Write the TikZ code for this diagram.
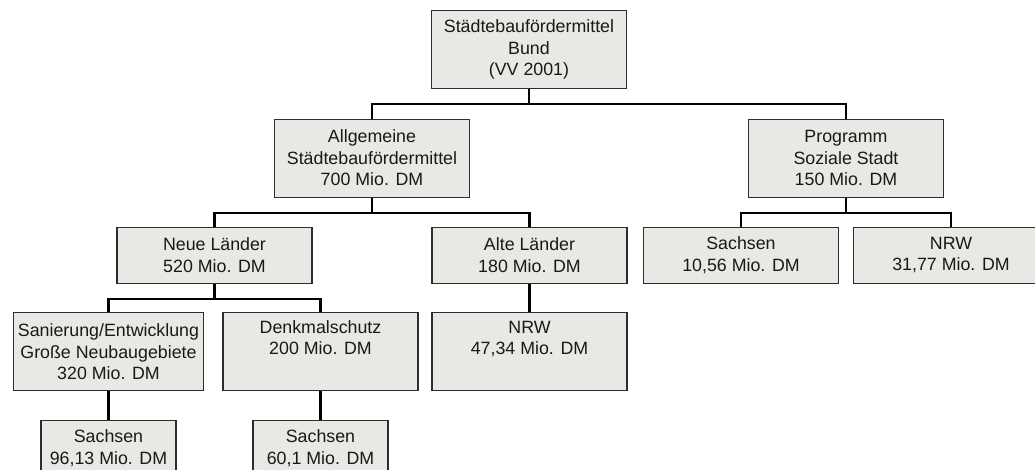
\documentclass[tikz,border=0pt]{standalone}
\usepackage{fontspec}
\setmainfont{Liberation Sans}
\usepackage{xcolor}
\usepackage{tikz}
\definecolor{boxgray}{RGB}{234,232,228}
\definecolor{framegray}{RGB}{45,45,45}

\begin{document}
\begin{tikzpicture}[x=1pt,y=1pt,
    edge from parent/.style={draw=black,line width=2.2pt},
    edge from parent path={(\tikzparentnode.south) -- ([yshift=-15pt]\tikzparentnode.south)
      -| (\tikzchildnode.north)}]
    \tikzstyle{every node}=[draw=framegray,line width=1.1pt,fill=boxgray,text=black!90,
      anchor=north,align=center,minimum width=195pt,minimum height=56pt,inner sep=0pt,
      font=\fontsize{17.8}{21.5}\selectfont]
    \tikzstyle{tall}=[minimum height=78pt]
    \tikzstyle{small}=[minimum width=135pt]
    \useasboundingbox (0,0) rectangle (1035,-470);
    \node[tall] (bund) at (529,-10) {Städtebaufördermittel\\Bund\\(VV 2001)}
    [level distance=69pt,sibling distance=474pt]
    child[xshift=80pt] { node[tall] (allg) {Allgemeine\\Städtebaufördermittel\\700 Mio. DM}
      [level distance=68.5pt,sibling distance=315pt]
      child { node (neu) {Neue Länder\\520 Mio. DM}
        [level distance=57pt,sibling distance=212pt]
        child { node[tall,minimum width=190pt] (sanierung) {Sanierung/Entwicklung\\Große Neubaugebiete\\320 Mio. DM}
          [level distance=68pt]
          child { node[small] (sanSachsen) {Sachsen\\96,13 Mio. DM} }
        }
        child { node[tall] (denkmal) {Denkmalschutz\\200 Mio. DM\\\strut}
          [level distance=68pt]
          child { node[small] (denkSachsen) {Sachsen\\60,1 Mio. DM} }
        }
      }
      child { node (alt) {Alte Länder\\180 Mio. DM}
        [level distance=57pt]
        child { node[tall] (altNRW) {NRW\\47,34 Mio. DM\\\strut} }
      }
    }
    child[xshift=80pt] { node[tall] (sozial) {Programm\\Soziale Stadt\\150 Mio. DM}
      [level distance=68.5pt,sibling distance=210pt]
      child { node (sozSachsen) {Sachsen\\10,56 Mio. DM} }
      child { node (sozNRW) {NRW\\31,77 Mio. DM} }
    };
  \end{tikzpicture}
\end{document}
